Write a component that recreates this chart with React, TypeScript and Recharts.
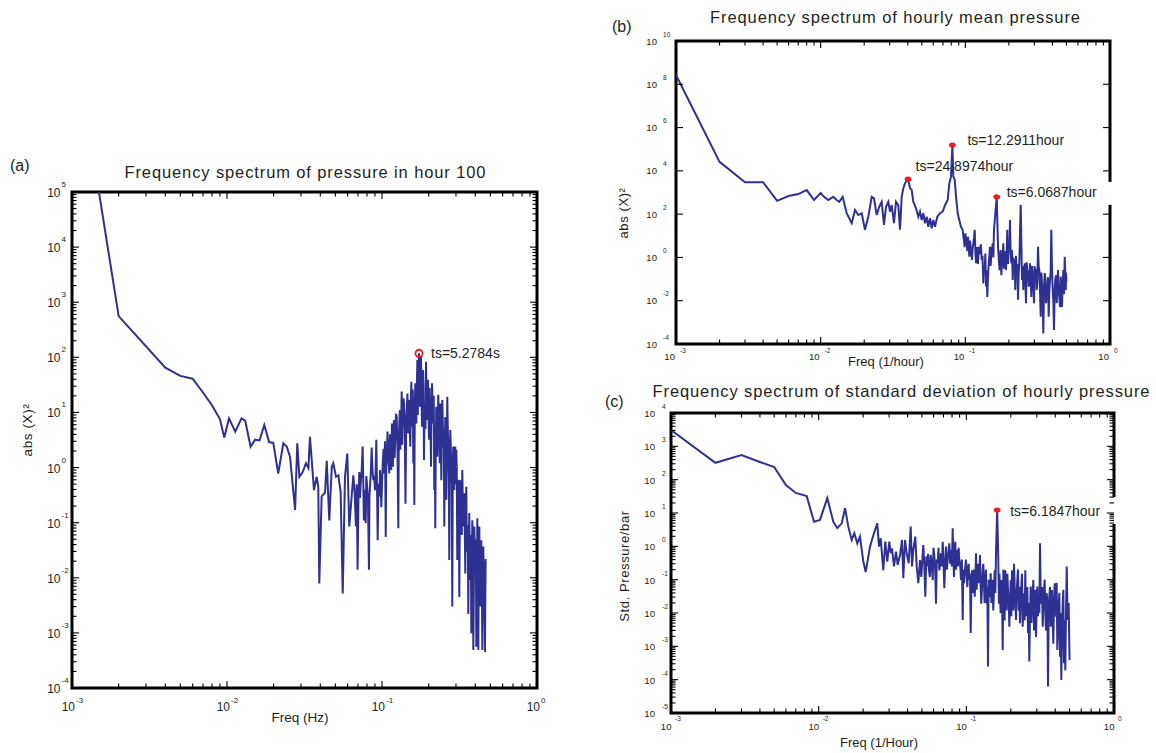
import React from 'react';
import { LineChart, Line, XAxis, YAxis, ReferenceDot, ReferenceArea } from 'recharts';

const FONT = "'Liberation Sans', Arial, Helvetica, sans-serif";
const BLUE = '#2e3192';
const RED = '#ed1c24';
const INK = '#231f20';

// ---------------- Panel (a): pressure in hour 100, [freq Hz, abs(X)^2] ----------------
const spectrumA: [number, number][] = [
  [0.001, 1.2e8], [0.002, 560], [0.004, 65], [0.005, 46], [0.006, 41], [0.007, 23], [0.008, 13.5],
  [0.009, 7.6], [0.0096, 3.5], [0.0103, 7.8], [0.0113, 4.5], [0.0124, 7.8], [0.0131, 7.1], [0.0142, 2.4],
  [0.0152, 3.2], [0.0162, 3.1], [0.0174, 5.9], [0.0187, 2.9], [0.0199, 2.8], [0.0214, 0.78], [0.0231, 2.75],
  [0.0243, 2.4], [0.0255, 1.58], [0.0275, 0.17], [0.0284, 2.75], [0.0293, 0.68], [0.0308, 0.83], [0.0323, 1.2],
  [0.0335, 0.98], [0.0343, 3.6], [0.0364, 0.39], [0.0379, 0.68], [0.0388, 0.45], [0.0394, 0.0079], [0.0408, 0.3],
  [0.0429, 0.35], [0.044, 1.32], [0.0457, 0.11], [0.0474, 1.02], [0.0485, 1.2], [0.0505, 0.68], [0.0523, 0.72],
  [0.0541, 0.36], [0.0558, 0.0052], [0.0577, 0.68], [0.0597, 1.8], [0.0615, 0.085],
  [0.0653, 0.72], [0.0666, 0.35], [0.0679, 0.085], [0.0687, 0.5], [0.0696, 0.014], [0.0705, 0.3], [0.0714, 0.83],
  [0.0721, 0.28], [0.0729, 0.51], [0.074, 0.9], [0.075, 2.4], [0.0757, 0.6], [0.0764, 0.11], [0.0775, 0.4],
  [0.0785, 0.098], [0.0792, 0.7], [0.08, 0.51], [0.0812, 0.25], [0.0824, 0.014], [0.083, 0.3], [0.0837, 0.45],
  [0.0847, 0.8], [0.0858, 2.3], [0.0868, 0.9], [0.0879, 0.59], [0.089, 0.7], [0.0901, 0.39], [0.091, 0.9],
  [0.0919, 3.2], [0.0928, 0.5], [0.0938, 0.048], [0.0947, 0.35], [0.0956, 0.51], [0.0963, 0.3], [0.0971, 0.9],
  [0.098, 0.6], [0.099, 0.19], [0.1, 0.5], [0.1011, 1.2], [0.1023, 2.2], [0.1035, 0.78], [0.1046, 3.0],
  [0.1057, 0.055], [0.1064, 0.9], [0.1072, 1.37], [0.1085, 4.5], [0.1098, 1.8], [0.1106, 1.1], [0.1114, 0.78],
  [0.1126, 4.0], [0.1138, 1.7], [0.1148, 0.9], [0.1159, 6.3], [0.1167, 2.5], [0.1176, 1.04], [0.1185, 3.5],
  [0.1194, 7.3], [0.1206, 1.5], [0.1218, 3.6], [0.1231, 9.5], [0.1244, 8.3], [0.1259, 2.0], [0.1274, 0.079],
  [0.1283, 3.0], [0.1293, 6.3], [0.1303, 11], [0.1313, 2.1], [0.1326, 4.5], [0.134, 24], [0.135, 2.6],
  [0.136, 6.3], [0.1374, 18], [0.1388, 14.6], [0.1403, 5.0], [0.1418, 0.22], [0.1433, 7.5], [0.1448, 12.7],
  [0.146, 22], [0.1473, 4.2], [0.1484, 9], [0.1495, 16.8], [0.1509, 5], [0.1523, 2.4], [0.1534, 14],
  [0.1546, 36], [0.1557, 11], [0.1569, 5.5], [0.158, 26], [0.1592, 1.2], [0.1604, 9], [0.1616, 0.21],
  [0.1628, 15], [0.1641, 34], [0.1653, 12], [0.1665, 6.3], [0.1677, 20], [0.169, 89], [0.1702, 9],
  [0.1715, 44], [0.1724, 25], [0.1733, 118], [0.1746, 40], [0.1759, 12.7], [0.1772, 30], [0.1785, 103],
  [0.1798, 22], [0.1812, 5.5], [0.1825, 18], [0.1839, 59], [0.1852, 30], [0.1866, 1.37], [0.188, 8],
  [0.1894, 14.6], [0.1908, 5], [0.1922, 83], [0.1936, 25], [0.1951, 7.3], [0.1965, 16], [0.198, 39],
  [0.1995, 10], [0.201, 3.2], [0.2025, 28], [0.204, 12.7], [0.2055, 6], [0.2071, 1.04], [0.2086, 9],
  [0.2102, 34], [0.2122, 13], [0.2142, 6.3], [0.2158, 20], [0.2174, 0.39], [0.219, 5], [0.2207, 0.079],
  [0.2223, 3], [0.224, 12.7], [0.2256, 7], [0.2273, 1.57], [0.229, 6], [0.2307, 21], [0.2324, 9],
  [0.2342, 3.2], [0.2359, 1.2], [0.2377, 14.6], [0.2395, 6], [0.2413, 0.59], [0.2431, 3.5], [0.2449, 16.8],
  [0.2467, 7], [0.2485, 2.4], [0.2504, 5], [0.2523, 0.085], [0.2541, 1.8], [0.256, 8.3], [0.2579, 4],
  [0.2598, 0.26], [0.2617, 1.5], [0.2637, 19.3], [0.2657, 5.5], [0.2677, 2.1], [0.2697, 0.7], [0.2717, 0.021],
  [0.2737, 1.6], [0.2758, 4.8], [0.2778, 2.5], [0.2799, 0.78], [0.282, 0.5], [0.2841, 0.003], [0.2862, 1.3],
  [0.2884, 2.4], [0.2905, 0.6], [0.2927, 0.39], [0.2949, 1.0], [0.2971, 2.4], [0.2993, 0.5], [0.3015, 2.1],
  [0.3037, 0.9], [0.306, 0.021], [0.3083, 0.2], [0.3106, 0.45], [0.3129, 0.6], [0.3153, 0.0045], [0.3176, 0.09],
  [0.32, 0.59], [0.3224, 0.35], [0.3248, 0.19], [0.3272, 0.06], [0.3297, 0.9], [0.3321, 0.25], [0.3346, 0.085],
  [0.3371, 0.15], [0.3396, 0.34], [0.3421, 0.07], [0.3447, 0.012], [0.3473, 0.2], [0.3499, 0.45], [0.3525, 0.03],
  [0.3551, 0.048], [0.3577, 0.09], [0.3604, 0.0022], [0.3631, 0.05], [0.3658, 0.15], [0.3685, 0.02], [0.3713, 0.0091],
  [0.3741, 0.06], [0.3769, 0.00098], [0.3797, 0.015], [0.3825, 0.11], [0.3854, 0.04], [0.3883, 0.00049], [0.3912, 0.006],
  [0.3941, 0.085], [0.397, 0.03], [0.4, 0.012], [0.403, 0.05], [0.406, 0.00056], [0.409, 0.004], [0.4121, 0.12],
  [0.4152, 0.02], [0.4183, 0.00049], [0.4214, 0.03], [0.4245, 0.085], [0.4277, 0.008], [0.4309, 0.003], [0.4341, 0.02],
  [0.4373, 0.048], [0.4406, 0.01], [0.4439, 0.00049], [0.4472, 0.002], [0.4505, 0.037], [0.4539, 0.004], [0.4573, 0.012],
  [0.4595, 0.02], [0.4618, 0.00045], [0.4642, 0.005], [0.4666, 0.022],
];
const peaksA = [{ freq: 0.1733, value: 118, label: 'ts=5.2784s' }];

// ---------------- Panel (b): hourly mean pressure, [freq 1/hour, abs(X)^2] ----------------
const spectrumB: [number, number][] = [
  [0.001, 2.7e8], [0.002, 2.6e4], [0.003, 3.0e3], [0.004, 3.0e3], [0.005, 410], [0.006, 690], [0.007, 850],
  [0.008, 1300], [0.009, 450], [0.01, 950], [0.01055, 630], [0.01129, 450], [0.01223, 630], [0.0129, 450],
  [0.01345, 370], [0.0142, 630], [0.01513, 110], [0.01639, 38], [0.01727, 155], [0.0182, 91], [0.01921, 110],
  [0.02025, 19], [0.02135, 76], [0.02253, 630], [0.02337, 540], [0.02439, 91], [0.02543, 220], [0.02641, 370],
  [0.0274, 32], [0.02829, 220], [0.02935, 370], [0.03015, 130], [0.03098, 260], [0.03213, 38], [0.03317, 370],
  [0.03441, 260], [0.03535, 19], [0.03632, 630], [0.03726, 1550], [0.03828, 2700], [0.0402, 4200], [0.04145, 1600],
  [0.04259, 1300], [0.04369, 370], [0.04561, 185], [0.0473, 76], [0.0486, 130], [0.04993, 54], [0.05122, 110],
  [0.05263, 38], [0.05407, 76], [0.05547, 26], [0.05699, 65], [0.05855, 22], [0.06007, 54], [0.06171, 26],
  [0.064, 76], [0.06682, 110], [0.06976, 130], [0.07236, 260], [0.07553, 450], [0.07748, 2600], [0.07961, 5400],
  [0.0814, 1.55e5], [0.0826, 5400], [0.0845, 3800], [0.0862, 630], [0.0886, 110], [0.0908, 54], [0.0933, 26],
  [0.0959, 19], [0.0969, 9], [0.0979, 6.3], [0.0989, 3], [0.0999, 13], [0.101, 8], [0.1022, 4.5],
  [0.1032, 2], [0.1043, 9.1], [0.1054, 4], [0.1065, 1.07], [0.1077, 6], [0.1089, 3.1], [0.11, 1.5],
  [0.1112, 0.76], [0.1123, 2.5], [0.1135, 4.5], [0.1148, 8], [0.1161, 19], [0.1173, 2], [0.1185, 0.54],
  [0.1197, 3], [0.121, 1.07], [0.1223, 0.5], [0.1237, 3.1], [0.125, 1.4], [0.1263, 2.2], [0.128, 4],
  [0.1298, 0.76], [0.1314, 1.2], [0.1331, 0.063], [0.1346, 0.4], [0.1361, 0.26], [0.1375, 1.5], [0.139, 0.045],
  [0.1404, 0.25], [0.1418, 0.015], [0.1434, 0.12], [0.1451, 0.54], [0.1466, 1.2], [0.1481, 3.1], [0.1496, 0.4],
  [0.1512, 1.55], [0.1529, 2.5], [0.1546, 4.5], [0.1562, 1.0], [0.1578, 19], [0.1648, 630], [0.167, 19],
  [0.1685, 2.5], [0.17, 1.07], [0.1712, 0.5], [0.1725, 0.26], [0.174, 1.2], [0.1755, 2.2], [0.1773, 0.15],
  [0.1792, 0.54], [0.1811, 1.1], [0.183, 4.5], [0.185, 0.3], [0.1871, 1.07], [0.189, 2.0], [0.191, 0.26],
  [0.193, 1.5], [0.195, 19], [0.1972, 0.5], [0.1994, 3.1], [0.2015, 2.0], [0.2036, 54], [0.2057, 1.5],
  [0.2079, 0.54], [0.2102, 2.2], [0.2126, 0.091], [0.2148, 1.0], [0.217, 0.26], [0.2192, 0.8], [0.2215, 0.031],
  [0.224, 1.2], [0.2265, 0.19], [0.2289, 0.5], [0.2313, 0.011], [0.2337, 0.2], [0.2361, 0.54], [0.2414, 320],
  [0.2464, 0.091], [0.249, 0.4], [0.2516, 0.031], [0.2544, 0.15], [0.2572, 0.54], [0.2599, 0.1], [0.2626, 0.0076],
  [0.2653, 0.6], [0.2681, 0.26], [0.2711, 0.2], [0.2742, 0.045], [0.277, 0.09], [0.2799, 0.54], [0.2828, 0.12],
  [0.2858, 0.015], [0.289, 0.4], [0.2922, 0.13], [0.2952, 0.05], [0.2983, 0.0076], [0.3014, 0.4], [0.3045, 0.091],
  [0.308, 0.3], [0.3114, 0.031], [0.3147, 0.08], [0.318, 3.1], [0.3213, 0.4], [0.3246, 0.26], [0.3282, 0.03],
  [0.3319, 0.0018], [0.3353, 0.2], [0.3388, 0.063], [0.3423, 0.02], [0.3459, 0.00031], [0.3498, 0.04], [0.3537, 0.19],
  [0.3574, 0.1], [0.3611, 0.0076], [0.3648, 0.015], [0.3686, 0.045], [0.3727, 0.12], [0.3769, 0.0018], [0.3808, 0.03],
  [0.3848, 0.091], [0.3888, 0.2], [0.3928, 19], [0.3972, 0.3], [0.4017, 0.031], [0.4059, 0.01], [0.4101, 0.00045],
  [0.4144, 0.03], [0.4187, 0.091], [0.4234, 0.15], [0.4281, 0.0076], [0.4326, 0.05], [0.4371, 0.26], [0.4416, 0.03],
  [0.4462, 0.015], [0.4512, 0.005], [0.4563, 0.13], [0.461, 0.04], [0.4658, 0.0052], [0.4707, 0.05], [0.4756, 0.26],
  [0.481, 0.02], [0.4863, 1.07], [0.4906, 0.2], [0.495, 0.031], [0.4975, 0.2], [0.5, 0.076],
];
const peaksB = [
  { freq: 0.0402, value: 4200, label: 'ts=24.8974hour' },
  { freq: 0.0814, value: 1.55e5, label: 'ts=12.2911hour' },
  { freq: 0.1648, value: 630, label: 'ts=6.0687hour' },
];

// ---------------- Panel (c): std of hourly pressure, [freq 1/hour, bar] ----------------
const spectrumC: [number, number][] = [
  [0.001, 3100], [0.002, 320], [0.003, 550], [0.004, 340], [0.005, 240], [0.006, 69], [0.007, 40],
  [0.0083, 32], [0.0093, 5.5], [0.01021, 6.2], [0.01144, 28], [0.01256, 5.5], [0.01337, 3.5], [0.01433, 4.9],
  [0.01508, 14], [0.01587, 3.9], [0.01674, 1.55], [0.01743, 2.5], [0.01826, 1.23], [0.01905, 1.95], [0.02006, 0.35],
  [0.02082, 0.17], [0.02227, 0.98], [0.0237, 2.5], [0.02495, 4.9], [0.02562, 0.98], [0.02631, 1.74], [0.02739, 0.19],
  [0.02826, 1.38], [0.02916, 0.35], [0.03008, 1.38], [0.03074, 0.62], [0.03137, 0.87], [0.03237, 0.25], [0.03339, 0.69],
  [0.03429, 0.28], [0.03555, 0.55], [0.03668, 1.55], [0.03743, 0.11], [0.03843, 1.55], [0.03946, 0.62], [0.04071, 0.31],
  [0.042, 3.9], [0.04286, 0.25], [0.04373, 0.78], [0.04512, 1.95], [0.04612, 0.25], [0.04729, 0.078], [0.04856, 0.39],
  [0.04956, 0.12], [0.05112, 1.1], [0.0519, 0.3], [0.05275, 0.031], [0.0536, 0.5], [0.05441, 0.25], [0.0551, 0.6],
  [0.05587, 0.19], [0.0566, 0.12], [0.05737, 0.55], [0.0583, 0.3], [0.05919, 0.098], [0.0599, 0.9], [0.06069, 0.55],
  [0.0615, 0.2], [0.06232, 0.019], [0.0631, 0.4], [0.06398, 0.31], [0.0648, 0.9], [0.0656, 0.19], [0.0665, 0.3],
  [0.06736, 0.62], [0.0683, 0.25], [0.06917, 1.38], [0.07, 0.4], [0.07092, 0.055], [0.0719, 0.3], [0.07283, 0.98],
  [0.0738, 0.2], [0.07477, 0.39], [0.0757, 0.7], [0.07667, 1.23], [0.0777, 0.3], [0.07873, 0.78], [0.0798, 0.25],
  [0.08084, 3.5], [0.0817, 0.5], [0.0825, 0.12], [0.0834, 0.6], [0.08419, 1.38], [0.0851, 0.2], [0.08606, 0.78],
  [0.0869, 0.5], [0.08782, 0.25], [0.0887, 0.9], [0.08961, 0.39], [0.0908, 0.3], [0.09202, 0.098], [0.0933, 0.4],
  [0.0945, 0.0062], [0.0954, 0.2], [0.09643, 0.078], [0.0974, 0.15], [0.09841, 0.25], [0.0995, 0.4], [0.1006, 0.12],
  [0.1016, 0.06], [0.1026, 0.19], [0.1037, 0.3], [0.1047, 0.098], [0.1059, 0.15], [0.1071, 0.0025], [0.1082, 0.08],
  [0.1093, 0.19], [0.1104, 0.04], [0.1115, 0.078], [0.1128, 0.2], [0.114, 0.031], [0.1151, 0.1], [0.1163, 0.62],
  [0.1175, 0.05], [0.1187, 0.19], [0.1199, 0.3], [0.1212, 0.078], [0.1225, 0.15], [0.1237, 0.55], [0.1249, 0.07],
  [0.1262, 0.019], [0.1276, 0.05], [0.129, 0.19], [0.1303, 0.3], [0.1317, 0.069], [0.133, 0.02], [0.1344, 0.098],
  [0.1358, 0.2], [0.1373, 0.019], [0.1387, 0.06], [0.1402, 0.00025], [0.1416, 0.1], [0.143, 0.062], [0.1446, 0.03],
  [0.1462, 0.155], [0.1477, 0.02], [0.1492, 0.062], [0.1507, 0.1], [0.1522, 0.012], [0.1539, 0.05], [0.1556, 0.19],
  [0.1572, 0.04], [0.1588, 0.62], [0.1617, 12.3], [0.1645, 0.49], [0.1654, 0.08], [0.1664, 0.019], [0.1677, 0.15],
  [0.169, 0.031], [0.1707, 0.01], [0.1725, 0.098], [0.1744, 0.05], [0.1763, 0.00078], [0.1781, 0.2], [0.1799, 0.031],
  [0.1817, 0.006], [0.1836, 0.19], [0.1856, 0.04], [0.1876, 0.012], [0.1895, 0.15], [0.1915, 0.049], [0.1935, 0.03],
  [0.1955, 0.0039], [0.1976, 0.02], [0.1998, 0.098], [0.2018, 0.008], [0.2039, 0.19], [0.2059, 0.05], [0.208, 0.012],
  [0.2103, 0.3], [0.2126, 0.062], [0.2148, 0.02], [0.217, 0.0062], [0.2192, 0.04], [0.2215, 0.098], [0.2239, 0.2],
  [0.2263, 0.012], [0.2286, 0.06], [0.2309, 0.0049], [0.2332, 0.02], [0.2356, 0.062], [0.2382, 0.15], [0.2408, 0.0039],
  [0.2433, 0.02], [0.2458, 0.039], [0.2483, 0.006], [0.2508, 0.19], [0.2535, 0.008], [0.2563, 0.025], [0.2589, 0.06],
  [0.2616, 0.0025], [0.2643, 0.02], [0.267, 0.00035], [0.27, 0.01], [0.2729, 0.062], [0.2757, 0.005], [0.2785, 0.012],
  [0.2813, 0.04], [0.2842, 0.098], [0.2873, 0.003], [0.2904, 0.019], [0.2934, 0.05], [0.2964, 0.0019], [0.2994, 0.015],
  [0.3025, 0.062], [0.3058, 0.008], [0.3091, 0.031], [0.3122, 0.01], [0.3154, 1.23], [0.3186, 0.05], [0.3219, 0.019],
  [0.3254, 0.06], [0.329, 0.0039], [0.3323, 0.02], [0.3357, 0.049], [0.3391, 0.1], [0.3426, 0.0098], [0.3464, 0.003],
  [0.3502, 0.039], [0.3538, 0.02], [0.3574, 0.000062], [0.361, 0.008], [0.3647, 0.031], [0.3687, 0.06], [0.3728, 0.0039],
  [0.3766, 0.02], [0.3804, 0.049], [0.3843, 0.006], [0.3882, 0.0012], [0.3925, 0.02], [0.3968, 0.078], [0.4008, 0.03],
  [0.4049, 0.0078], [0.409, 0.08], [0.4132, 0.00078], [0.4177, 0.003], [0.4222, 0.019], [0.4265, 0.04], [0.4309, 0.00049],
  [0.4353, 0.01], [0.4397, 0.000098], [0.4445, 0.002], [0.4494, 0.019], [0.454, 0.05], [0.4587, 0.00031], [0.4633, 0.006],
  [0.468, 0.00019], [0.4732, 0.01], [0.4784, 0.25], [0.4822, 0.03], [0.4859, 0.0062], [0.493, 0.02], [0.5, 0.00039],
];
const peaksC = [{ freq: 0.1617, value: 12.3, label: 'ts=6.1847hour' }];

// ---------------- axis decades (tick labels) ----------------
const xDecades = [0.001, 0.01, 0.1, 1];
const yDecadesA = [1e-4, 1e-3, 1e-2, 1e-1, 1, 1e1, 1e2, 1e3, 1e4, 1e5];
const yDecadesB = [1e-4, 1e-2, 1, 1e2, 1e4, 1e6, 1e8, 1e10];
const yDecadesC = [1e-5, 1e-4, 1e-3, 1e-2, 1e-1, 1, 1e1, 1e2, 1e3, 1e4];

// ---------------- layout / style (kept apart from the data) ----------------
type Box = { top: number; h: number; w: number } | null;
const peakLayoutA: { dx: number; dy: number; box: Box }[] = [{ dx: 12, dy: 5, box: null }];
const peakLayoutB: { dx: number; dy: number; box: Box }[] = [
  { dx: 7.5, dy: -8, box: null },
  { dx: 15, dy: 0, box: null },
  { dx: 10, dy: 0, box: { top: -15, h: 23, w: 118 } },
];
const peakLayoutC: { dx: number; dy: number; box: Box }[] = [{ dx: 13, dy: 5.5, box: { top: -13, h: 27, w: 114 } }];

function withMinor(decades: number[]): number[] {
  const out: number[] = [];
  for (let i = 0; i < decades.length; i++) {
    out.push(decades[i]);
    if (i < decades.length - 1) {
      for (let m = 2; m <= 9; m++) out.push(decades[i] * m);
    }
  }
  return out;
}

type Lab = { size: number; expSize: number; tenDx: number; tenDy: number; expDx: number; expDy: number };

function isMajor(v: number) {
  const e = Math.log10(v);
  return Math.abs(e - Math.round(e)) < 1e-6;
}

// Draws the inward tick on this side and the mirrored inward tick on the opposite side.
function makeTick(side: 'bottom' | 'left', lab: Lab, span: number) {
  return (props: any) => {
    const { x, y, payload } = props;
    const v = Number(payload.value);
    const major = isMajor(v);
    const len = major ? 7 : 4.5;
    const lines =
      side === 'bottom'
        ? [
            [x, y, x, y - len],
            [x, y - span, x, y - span + len],
          ]
        : [
            [x, y, x + len, y],
            [x + span, y, x + span - len, y],
          ];
    return (
      <g>
        {lines.map((l, i) => (
          <line key={i} x1={l[0]} y1={l[1]} x2={l[2]} y2={l[3]} stroke="#000" strokeWidth={1.1} />
        ))}
        {major ? (
          <g fontFamily={FONT} fill={INK}>
            <text x={x + lab.tenDx} y={y + lab.tenDy} fontSize={lab.size} textAnchor="end">10</text>
            <text x={x + lab.expDx} y={y + lab.expDy} fontSize={lab.expSize} textAnchor="start">
              {String(Math.round(Math.log10(v)))}
            </text>
          </g>
        ) : null}
      </g>
    );
  };
}

function PeakMark(props: any) {
  const { cx, cy, label, lay, ring } = props;
  if (cx == null || cy == null) return null;
  return (
    <g>
      {lay.box ? (
        <rect x={cx + lay.dx - 3} y={cy + lay.box.top} width={lay.box.w} height={lay.box.h} fill="#fff" />
      ) : null}
      {ring ? (
        <circle cx={cx} cy={cy} r={3.6} fill="none" stroke={RED} strokeWidth={1.8} />
      ) : (
        <ellipse cx={cx} cy={cy} rx={3.4} ry={2.6} fill={RED} />
      )}
      <text x={cx + lay.dx} y={cy + lay.dy} fontSize={14} fontFamily={FONT} fill={INK}>
        {label}
      </text>
    </g>
  );
}

type PanelProps = {
  box: { left: number; top: number; right: number; bottom: number };
  spectrum: [number, number][];
  yDecades: number[];
  yMinor: boolean;
  xLab: Lab;
  yLab: Lab;
  peaks: { freq: number; value: number; label: string }[];
  layout: { dx: number; dy: number; box: Box }[];
  ring: boolean;
};

function Panel({ box, spectrum, yDecades, yMinor, xLab, yLab, peaks, layout, ring }: PanelProps) {
  const padL = 80;
  const padT = 14;
  const padR = 34;
  const padB = 50;
  const xH = 40;
  const plotW = box.right - box.left;
  const plotH = box.bottom - box.top;
  const w = plotW + padL + padR;
  const h = plotH + padT + padB;
  const rows = spectrum.map(([f, p]) => ({ f, p }));
  const xTicks = withMinor(xDecades);
  const yTicks = yMinor ? withMinor(yDecades) : yDecades;
  const xDom = [xDecades[0], xDecades[xDecades.length - 1]];
  const yDom = [yDecades[0], yDecades[yDecades.length - 1]];
  return (
    <div style={{ position: 'absolute', left: box.left - padL, top: box.top - padT, width: w, height: h }}>
      <LineChart width={w} height={h} data={rows} margin={{ top: padT, right: padR, bottom: padB - xH, left: 0 }}>
        <XAxis xAxisId="b" orientation="bottom" dataKey="f" type="number" scale="log" domain={xDom}
          allowDataOverflow ticks={xTicks} interval={0} height={xH} tickLine={false} tickSize={0}
          tickMargin={0} axisLine={false} tick={makeTick('bottom', xLab, plotH)} />
        <YAxis yAxisId="l" orientation="left" type="number" scale="log" domain={yDom}
          allowDataOverflow ticks={yTicks} interval={0} width={padL} tickLine={false} tickSize={0}
          tickMargin={0} axisLine={false} tick={makeTick('left', yLab, plotW)} />
        <Line xAxisId="b" yAxisId="l" dataKey="p" type="linear" stroke={BLUE} strokeWidth={2}
          dot={false} activeDot={false} isAnimationActive={false} strokeLinejoin="miter" />
        <ReferenceArea xAxisId="b" yAxisId="l" x1={xDom[0]} x2={xDom[1]} y1={yDom[0]} y2={yDom[1]}
          fill="none" fillOpacity={0} stroke="#000" strokeWidth={3} ifOverflow="visible" />
        {peaks.map((pk, i) => (
          <ReferenceDot key={pk.label} xAxisId="b" yAxisId="l" x={pk.freq} y={pk.value} r={3}
            shape={(p: any) => <PeakMark {...p} label={pk.label} lay={layout[i]} ring={ring} />} />
        ))}
      </LineChart>
    </div>
  );
}

export default function App() {
  const txt = { fontFamily: FONT, fill: INK } as const;
  return (
    <div style={{ position: 'absolute', left: 0, top: 0, width: 1156, height: 753, background: '#fff', overflow: 'hidden' }}>
      <Panel
        box={{ left: 72, top: 192, right: 537, bottom: 688 }}
        spectrum={spectrumA} yDecades={yDecadesA} yMinor
        xLab={{ size: 12, expSize: 8, tenDx: 3, tenDy: 23, expDx: 4, expDy: 15 }}
        yLab={{ size: 12, expSize: 8, tenDx: -11.5, tenDy: 5, expDx: -10.5, expDy: -5 }}
        peaks={peaksA} layout={peakLayoutA} ring
      />
      <Panel
        box={{ left: 676, top: 41, right: 1110, bottom: 344 }}
        spectrum={spectrumB} yDecades={yDecadesB} yMinor={false}
        xLab={{ size: 9.6, expSize: 6.6, tenDx: -1, tenDy: 16, expDx: 4, expDy: 8.5 }}
        yLab={{ size: 9.6, expSize: 6.6, tenDx: -19, tenDy: 3.5, expDx: -13, expDy: -4.5 }}
        peaks={peaksB} layout={peakLayoutB} ring={false}
      />
      <Panel
        box={{ left: 671, top: 413, right: 1114, bottom: 713 }}
        spectrum={spectrumC} yDecades={yDecadesC} yMinor
        xLab={{ size: 9.6, expSize: 6.6, tenDx: 0.5, tenDy: 16.5, expDx: 4, expDy: 7.5 }}
        yLab={{ size: 9.6, expSize: 6.6, tenDx: -16, tenDy: 4, expDx: -9, expDy: -4 }}
        peaks={peaksC} layout={peakLayoutC} ring={false}
      />
      <svg width={1156} height={753} style={{ position: 'absolute', left: 0, top: 0, pointerEvents: 'none' }}>
        <text x={10} y={171} fontSize={16} {...txt}>(a)</text>
        <text x={305} y={178} fontSize={16.5} textAnchor="middle" textLength={361} lengthAdjust="spacing" {...txt}>
          Frequency spectrum of pressure in hour 100
        </text>
        <text x={300} y={722} fontSize={13.5} textAnchor="middle" {...txt}>Freq (Hz)</text>
        <text x={32} y={430} fontSize={13.5} textAnchor="middle" letterSpacing={0.6} transform="rotate(-90 32 430)" {...txt}>
          abs (X)²
        </text>

        <text x={612} y={32} fontSize={16} {...txt}>(b)</text>
        <text x={895} y={23} fontSize={16.5} textAnchor="middle" textLength={370} lengthAdjust="spacing" {...txt}>
          Frequency spectrum of hourly mean pressure
        </text>
        <text x={886} y={366} fontSize={13} textAnchor="middle" {...txt}>Freq (1/hour)</text>
        <text x={628} y={213} fontSize={13} textAnchor="middle" letterSpacing={0.6} transform="rotate(-90 628 213)" {...txt}>
          abs (X)²
        </text>

        <text x={605} y={407} fontSize={16} {...txt}>(c)</text>
        <text x={901} y={397} fontSize={16.5} textAnchor="middle" textLength={497} lengthAdjust="spacing" {...txt}>
          Frequency spectrum of standard deviation of hourly pressure
        </text>
        <text x={879} y={747} fontSize={13} textAnchor="middle" {...txt}>Freq (1/Hour)</text>
        <text x={629} y={566} fontSize={13} textAnchor="middle" letterSpacing={0.6} transform="rotate(-90 629 566)" {...txt}>
          Std. Pressure/bar
        </text>
      </svg>
    </div>
  );
}
